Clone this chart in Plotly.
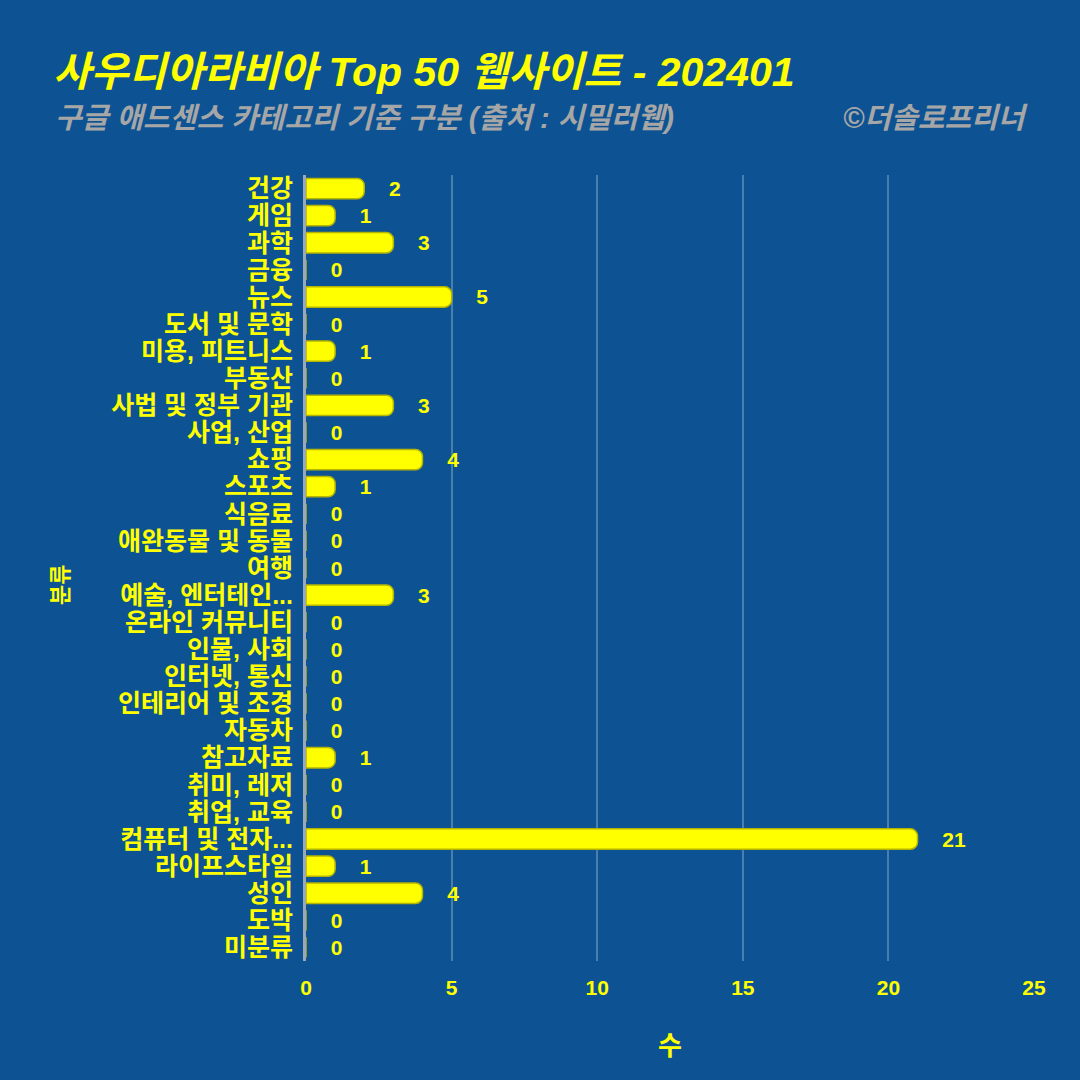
import plotly.graph_objects as go

categories = ["건강", "게임", "과학", "금융", "뉴스", "도서 및 문학", "미용, 피트니스", "부동산",
              "사법 및 정부 기관", "사업, 산업", "쇼핑", "스포츠", "식음료", "애완동물 및 동물", "여행",
              "예술, 엔터테인...", "온라인 커뮤니티", "인물, 사회", "인터넷, 통신", "인테리어 및 조경",
              "자동차", "참고자료", "취미, 레저", "취업, 교육", "컴퓨터 및 전자...", "라이프스타일",
              "성인", "도박", "미분류"]
counts = [2, 1, 3, 0, 5, 0, 1, 0, 3, 0, 4, 1, 0, 0, 0, 3, 0, 0, 0, 0, 0, 1, 0, 0, 21, 1, 4, 0, 0]
x_ticks = [0, 5, 10, 15, 20, 25]

BG = "#0D5394"
YEL = "#FFFF00"
GRAY = "#A6A6A6"
FONT = "Liberation Sans, Noto Sans CJK KR, sans-serif"

L, R, T, B = 306, 46, 175, 119
PW, PH = 1080 - L - R, 1080 - T - B


def px(x):
    return (x - L) / PW


def py(y):
    return (1080 - B - y) / PH


fig = go.Figure()
fig.add_trace(go.Bar(
    x=counts, y=categories, orientation="h",
    marker=dict(color=YEL, line=dict(color="#B5B500", width=1.5)),
    text=["   \u2009" + str(v) for v in counts],
    textposition="outside", cliponaxis=False, constraintext="none",
    textfont=dict(color=YEL, size=21, family=FONT, weight="bold"),
))

fig.update_layout(
    width=1080, height=1080,
    paper_bgcolor=BG, plot_bgcolor=BG,
    margin=dict(l=L, r=R, t=T, b=B),
    bargap=0.25, barcornerradius=7,
    showlegend=False,
    font=dict(family=FONT, color=YEL, size=21),
    title=dict(text="사우디아라비아 Top 50 웹사이트 - 202401", x=53/1080, xanchor="left",
               y=1-72/1080, yanchor="middle",
               font=dict(size=41, color=YEL, family=FONT, weight="bold", style="italic")),
    annotations=[
        dict(text="구글 애드센스 카테고리 기준 구분 (출처 : 시밀러웹)", xref="paper", yref="paper",
             x=px(53), xanchor="left", y=py(118), yanchor="middle", showarrow=False,
             font=dict(size=29, color=GRAY, family=FONT, weight="bold", style="italic")),
        dict(text="©더솔로프리너", xref="paper", yref="paper",
             x=px(1030), xanchor="right", y=py(118), yanchor="middle", showarrow=False,
             font=dict(size=29, color=GRAY, family=FONT, weight="bold", style="italic")),
        dict(text="분류", xref="paper", yref="paper", textangle=-90,
             x=px(60), xanchor="center", y=py(585), yanchor="middle", showarrow=False,
             font=dict(size=22, color=YEL, family=FONT, weight="bold")),
    ],
)
fig.update_xaxes(range=[0, 25], tickvals=x_ticks, showgrid=True,
                 gridcolor="rgba(255,255,255,0.25)", gridwidth=2, zeroline=False,
                 tickfont=dict(size=21, color=YEL, family=FONT, weight="bold"),
                 ticklabelstandoff=12,
                 title=dict(text="수", font=dict(size=26, color=YEL, family=FONT, weight="bold"), standoff=38),
                 ticks="", ticklen=0)
fig.update_yaxes(autorange="reversed", showline=True, linecolor="#9AA8B8", linewidth=3,
                 showgrid=False, ticks="", ticklabelstandoff=5,
                 tickmode="array", tickvals=categories, ticktext=categories,
                 tickfont=dict(size=25, color=YEL, family=FONT, weight="bold"))

fig.write_html("out.html")
